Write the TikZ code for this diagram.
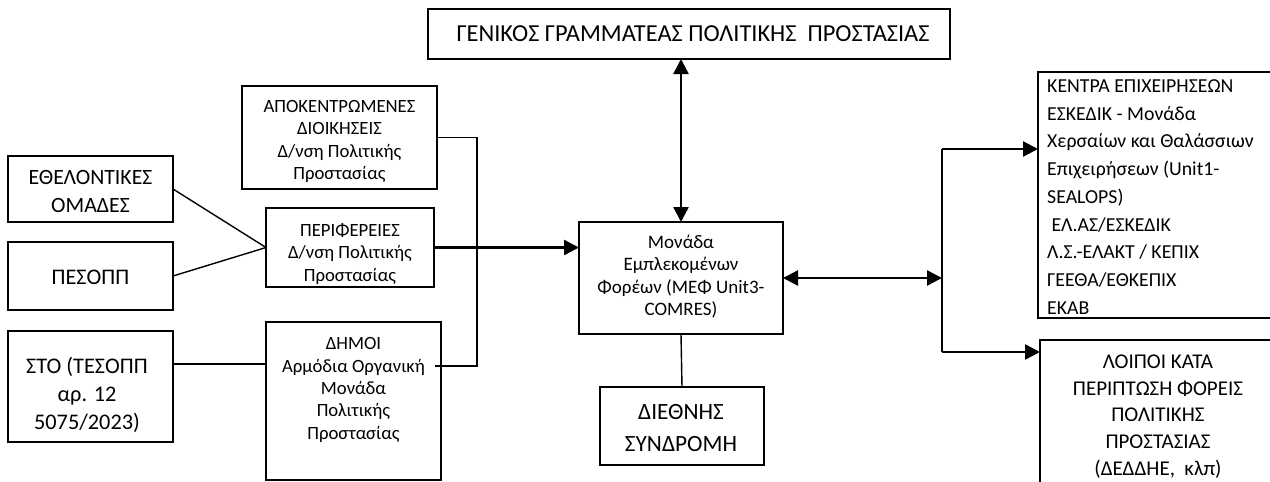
\documentclass[tikz,border=0pt]{standalone}
\usepackage{fontspec}
\setmainfont{Carlito}
\usetikzlibrary{arrows.meta,calc}
\begin{document}
\begin{tikzpicture}[x=1pt,y=-1pt,
  box/.style={draw, line width=1.4pt, inner sep=0pt, outer sep=0pt, anchor=north west},
  txt/.style={inner sep=0pt, align=center},
  big/.style={font=\fontsize{22.3}{28}\selectfont},
  small/.style={font=\fontsize{18.7}{22.3}\selectfont},
  thin/.style={line width=1.4pt},
  thick/.style={line width=2.4pt},
  tip/.style={-{Triangle[length=15pt,width=15pt]}},
  dtip/.style={{Triangle[length=15pt,width=15pt]}-{Triangle[length=15pt,width=15pt]}}
]
\useasboundingbox (0,0) rectangle (1270,482);
\clip (0,0) rectangle (1270,482);
% boxes
\node[box, minimum width=522pt, minimum height=50pt] (gen) at (428,9) {};
\node[box, minimum width=195pt, minimum height=103pt] (apok) at (242,86) {};
\node[box, minimum width=165pt, minimum height=66pt] (ethel) at (8,156) {};
\node[box, minimum width=165pt, minimum height=68pt] (pesopp) at (8,242) {};
\node[box, minimum width=165pt, minimum height=111pt] (sto) at (8,331) {};
\node[box, minimum width=168pt, minimum height=79pt] (perif) at (266,208) {};
\node[box, minimum width=175pt, minimum height=158pt] (dimoi) at (266,322) {};
\node[box, minimum width=204pt, minimum height=112pt] (main) at (579,222) {};
\node[box, minimum width=164pt, minimum height=78pt] (dieth) at (600,387) {};
\node[box, minimum width=252pt, minimum height=246pt] (kentra) at (1038,72) {};
\node[box, minimum width=250pt, minimum height=180pt] (loipoi) at (1040,340) {};
% texts
\node[txt, font=\fontsize{24.4}{28}\selectfont] (tgen) at (693,34) {ΓΕΝΙΚΟΣ ΓΡΑΜΜΑΤΕΑΣ ΠΟΛΙΤΙΚΗΣ \ ΠΡΟΣΤΑΣΙΑΣ};
\node[txt, small] (tapok) at (339.5,141.5) {ΑΠΟΚΕΝΤΡΩΜΕΝΕΣ\\ΔΙΟΙΚΗΣΕΙΣ\\Δ/νση Πολιτικής\\Προστασίας};
\node[txt, font=\fontsize{21.8}{28}\selectfont] (tethel) at (90.5,191) {ΕΘΕΛΟΝΤΙΚΕΣ\\ΟΜΑΔΕΣ};
\node[txt, big] (tpesopp) at (90.5,277) {ΠΕΣΟΠΠ};
\node[txt, big] (tsto) at (87,395) {ΣΤΟ (ΤΕΣΟΠΠ\\αρ. 12\\ 5075/2023)};
\node[txt, small] (tperif) at (350,254) {ΠΕΡΙΦΕΡΕΙΕΣ\\Δ/νση Πολιτικής\\Προστασίας};
\node[txt, small] (tdimoi) at (353.5,390) {ΔΗΜΟΙ\\Αρμόδια Οργανική\\Μονάδα\\Πολιτικής\\Προστασίας};
\node[txt, font=\fontsize{19}{22.3}\selectfont] (tmain) at (681,276.5) {Μονάδα\\Εμπλεκομένων\\Φορέων (ΜΕΦ Unit3-\\COMRES)};
\node[txt, font=\fontsize{23.3}{32}\selectfont] (tdieth) at (681,428) {ΔΙΕΘΝΗΣ\\ΣΥΝΔΡΟΜΗ};
\node[txt, align=left, anchor=west, font=\fontsize{19.8}{27.75}\selectfont] (tkentra) at (1047,197) {ΚΕΝΤΡΑ ΕΠΙΧΕΙΡΗΣΕΩΝ\\ΕΣΚΕΔΙΚ - Μονάδα\\Χερσαίων και Θαλάσσιων\\Επιχειρήσεων (Unit1-\\SEALOPS)\\\ ΕΛ.ΑΣ/ΕΣΚΕΔΙΚ\\Λ.Σ.-ΕΛΑΚΤ / ΚΕΠΙΧ\\ΓΕΕΘΑ/ΕΘΚΕΠΙΧ\\ΕΚΑΒ};
\node[txt, font=\fontsize{21}{26.8}\selectfont] (tloipoi) at (1158,416.5) {ΛΟΙΠΟΙ ΚΑΤΑ\\ΠΕΡΙΠΤΩΣΗ ΦΟΡΕΙΣ\\ΠΟΛΙΤΙΚΗΣ\\ΠΡΟΣΤΑΣΙΑΣ\\(ΔΕΔΔΗΕ, \ κλπ)};
% connector points
\coordinate (jb) at (477,366);
\coordinate (dm) at (435,366);
\coordinate (s1) at ($(sto.east)+(0,-22.5)$);
\coordinate (busT) at (942,149);
\coordinate (busB) at (942,352);
\coordinate (busM) at (942,278);
% connectors
\draw[thick, dtip] (gen.south -| main.north) -- (main.north);
\draw[thin] (apok.east) -| (jb) -- (dm);
\draw[thin] (ethel.east) -- (perif.west);
\draw[thin] (pesopp.east) -- (perif.west);
\draw[thin] (s1) -- (s1 -| dimoi.west);
\draw[thick, tip] (perif.east) -- (perif.east -| main.west);
\draw[thin] (main.south) -- (dieth.north);
\draw[thick, dtip] (main.east) -- (busM);
\draw[thick] (busT) -- (busB);
\draw[thick, tip] (busT) -- (busT -| kentra.west);
\draw[thick, tip] (busB) -- (busB -| loipoi.west);
\end{tikzpicture}
\end{document}
